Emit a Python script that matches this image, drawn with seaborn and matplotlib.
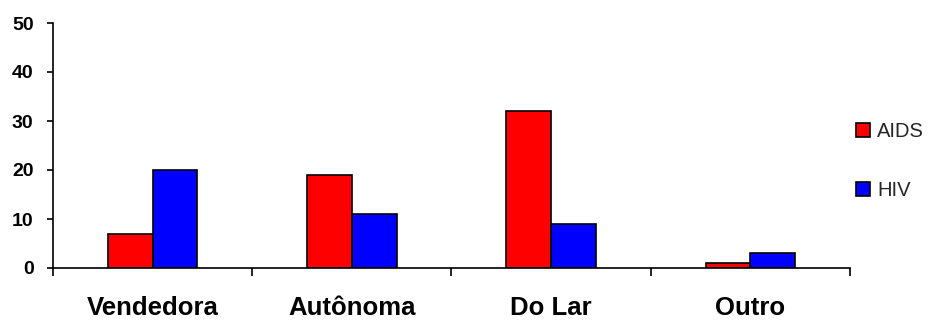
import matplotlib
matplotlib.use("Agg")
import matplotlib.pyplot as plt
from matplotlib.patches import Patch
from matplotlib.ticker import FixedLocator
import pandas as pd
import seaborn as sns

# Ocupação das mulheres notificadas, por grupo
categorias = ["Vendedora", "Autônoma", "Do Lar", "Outro"]
aids = [7, 19, 32, 1]
hiv = [20, 11, 9, 3]
grupos = ["AIDS", "HIV"]
cores = {"AIDS": "#FF0000", "HIV": "#0000FF"}
yticks = [0, 10, 20, 30, 40, 50]

df = pd.DataFrame({
    "categoria": categorias * 2,
    "grupo": ["AIDS"] * len(categorias) + ["HIV"] * len(categorias),
    "valor": aids + hiv,
})

sns.set_style("white")
plt.rcParams["font.family"] = ["Liberation Sans", "DejaVu Sans"]

fig = plt.figure(figsize=(9.29, 3.27), dpi=100)
ax = fig.add_axes([53 / 929, 59 / 327, 797 / 929, 245 / 327])

sns.barplot(data=df, x="categoria", y="valor", hue="grupo", order=categorias,
            hue_order=grupos, palette=cores, width=0.45, saturation=1,
            edgecolor="black", linewidth=1.2, legend=False, ax=ax)

ax.set_xlim(-0.5, len(categorias) - 0.5)
ax.set_ylim(0, 50)
ax.set_yticks(yticks)
ax.set_xlabel("")
ax.set_ylabel("")

for side in ("top", "right"):
    ax.spines[side].set_visible(False)
for side in ("left", "bottom"):
    ax.spines[side].set_color("black")
    ax.spines[side].set_linewidth(1.2)

# category labels centred, tick marks on the boundaries between categories
ax.xaxis.set_minor_locator(FixedLocator([i - 0.5 for i in range(len(categorias) + 1)]))
ax.tick_params(axis="x", which="major", length=0, pad=20.5, labelsize=18.5)
ax.tick_params(axis="x", which="minor", length=6, width=1.2, color="black",
               direction="out", bottom=True)
ax.tick_params(axis="y", which="major", length=4.5, width=1.2, color="black",
               direction="out", left=True, pad=9.5, labelsize=14)
for lbl in ax.get_xticklabels() + ax.get_yticklabels():
    lbl.set_fontweight("bold")
    lbl.set_color("black")

handles = [Patch(facecolor=cores[g], edgecolor="black", linewidth=1.2, label=g)
           for g in grupos]
fig.legend(handles=handles, loc="center left",
           bbox_to_anchor=(856 / 929, 1 - 161 / 327), frameon=False,
           fontsize=14.5, handlelength=0.7, handleheight=0.7,
           handletextpad=0.35, labelspacing=2.0, borderpad=0, borderaxespad=0)

fig.savefig("out.png", dpi=100, facecolor="white")
